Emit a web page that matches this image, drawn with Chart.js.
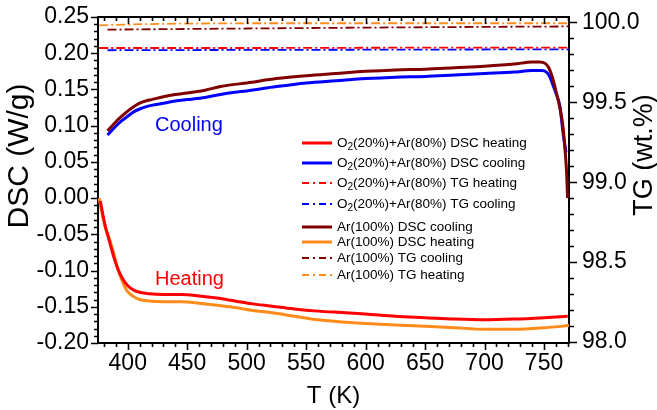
<!DOCTYPE html>
<html lang="en">
<head>
  <meta charset="UTF-8">
  <title>DSC / TG</title>
  <style>
    html, body { margin: 0; padding: 0; background: #fff; }
  </style>
  <script src="https://cdn.jsdelivr.net/npm/chart.js"></script>
</head>
<body>
  <canvas id="chart" width="657" height="410"></canvas>

  <script>
    // ---- data: temperature (K) / signal ----
    const o2DscHeatT = [377, 379, 381, 383, 386, 389, 392, 396, 400, 405, 410, 418, 430, 445, 460, 475, 490, 505, 520, 540, 560, 580, 600, 625, 650, 675, 700, 725, 750, 770];
    const o2DscHeatV = [-0.004, -0.022, -0.038, -0.05, -0.068, -0.085, -0.099, -0.112, -0.121, -0.127, -0.130, -0.132, -0.133, -0.133, -0.135, -0.138, -0.142, -0.146, -0.149, -0.153, -0.156, -0.158, -0.160, -0.163, -0.165, -0.167, -0.168, -0.167, -0.165, -0.163];

    const o2DscCoolT = [383, 387, 391, 395, 400, 405, 410, 415, 420, 430, 440, 450, 465, 478, 490, 500, 525, 550, 575, 600, 625, 650, 675, 700, 725, 740, 748, 752, 755, 757.5, 760, 763.4, 766, 768.5];
    const o2DscCoolV = [0.087, 0.094, 0.101, 0.107, 0.113, 0.119, 0.123, 0.126, 0.128, 0.131, 0.134, 0.136, 0.139, 0.143, 0.146, 0.148, 0.154, 0.159, 0.162, 0.165, 0.167, 0.168, 0.170, 0.172, 0.174, 0.176, 0.176, 0.174, 0.167, 0.156, 0.145, 0.126, 0.090, 0.063];

    const o2TgHeatT = [376, 500, 650, 771];
    const o2TgHeatV = [99.840, 99.840, 99.842, 99.842];

    const o2TgCoolT = [383, 500, 650, 771];
    const o2TgCoolV = [99.826, 99.828, 99.830, 99.832];

    const arDscCoolT = [383, 387, 391, 395, 400, 405, 410, 415, 420, 430, 440, 450, 465, 478, 490, 500, 525, 550, 575, 600, 625, 650, 675, 700, 725, 740, 746, 751, 754, 757.5, 760, 763.4, 766, 767.6, 769, 769.8];
    const arDscCoolV = [0.093, 0.100, 0.107, 0.113, 0.120, 0.126, 0.131, 0.134, 0.136, 0.140, 0.143, 0.145, 0.149, 0.154, 0.157, 0.159, 0.165, 0.169, 0.172, 0.175, 0.177, 0.178, 0.180, 0.182, 0.185, 0.188, 0.188, 0.186, 0.180, 0.164, 0.148, 0.124, 0.098, 0.068, 0.035, 0.0];

    const arDscHeatT = [376, 378, 380, 382, 385, 388, 391, 395, 399, 404, 410, 418, 430, 445, 460, 475, 490, 505, 520, 540, 560, 580, 600, 625, 650, 675, 700, 725, 750, 771];
    const arDscHeatV = [0.0, -0.018, -0.033, -0.045, -0.058, -0.075, -0.094, -0.113, -0.127, -0.135, -0.140, -0.142, -0.143, -0.143, -0.145, -0.148, -0.151, -0.155, -0.158, -0.163, -0.168, -0.171, -0.173, -0.175, -0.177, -0.179, -0.181, -0.181, -0.179, -0.176];

    const arTgCoolT = [383, 500, 650, 771];
    const arTgCoolV = [99.955, 99.962, 99.970, 99.975];

    const arTgHeatT = [376, 420, 550, 771];
    const arTgHeatV = [99.982, 99.990, 99.995, 99.995];

    // ---- axis ticks ----
    const tempTicks = [400, 450, 500, 550, 600, 650, 700, 750];
    const dscTicks = [-0.20, -0.15, -0.10, -0.05, 0.00, 0.05, 0.10, 0.15, 0.20, 0.25];
    const tgTicks = [98.0, 98.5, 99.0, 99.5, 100.0];

    const FONT = "'Liberation Sans', Arial, sans-serif";
    const RED = '#ff0000', BLUE = '#0000ff', DARKRED = '#800000', ORANGE = '#ff8c1a';
    const DASHDOT = [9, 3, 2, 3];

    Chart.defaults.font.family = FONT;
    Chart.defaults.color = '#000';

    function pts(ts, vs) {
      return ts.map((t, i) => ({ x: t, y: vs[i] }));
    }

    function dsc(label, ts, vs, color, order) {
      return { label, data: pts(ts, vs), borderColor: color, borderWidth: 3, yAxisID: 'y', order };
    }
    function tg(label, ts, vs, color) {
      return { label, data: pts(ts, vs), borderColor: color, borderWidth: 1.8, borderDash: DASHDOT, yAxisID: 'y2', order: 2 };
    }

    const datasets = [
      dsc('O2(20%)+Ar(80%) DSC heating', o2DscHeatT, o2DscHeatV, RED, 1),
      dsc('O2(20%)+Ar(80%) DSC cooling', o2DscCoolT, o2DscCoolV, BLUE, 1),
      tg('O2(20%)+Ar(80%) TG heating', o2TgHeatT, o2TgHeatV, RED),
      tg('O2(20%)+Ar(80%) TG cooling', o2TgCoolT, o2TgCoolV, BLUE),
      dsc('Ar(100%) DSC cooling', arDscCoolT, arDscCoolV, DARKRED, 0),
      dsc('Ar(100%) DSC heating', arDscHeatT, arDscHeatV, ORANGE, 1),
      tg('Ar(100%) TG cooling', arTgCoolT, arTgCoolV, DARKRED),
      tg('Ar(100%) TG heating', arTgHeatT, arTgHeatV, ORANGE)
    ];

    // legend rows (y centre of each entry)
    const legendRows = [143, 163, 183, 204, 227, 242, 258, 275];

    // draws text, rendering the "2" in a leading "O2" as a subscript
    function drawLabel(ctx, text, x, y, size) {
      ctx.font = `${size}px ${FONT}`;
      if (text.startsWith('O2')) {
        ctx.fillText('O', x, y);
        x += ctx.measureText('O').width;
        ctx.font = `${Math.round(size * 0.72)}px ${FONT}`;
        ctx.fillText('2', x, y + 4);
        x += ctx.measureText('2').width;
        ctx.font = `${size}px ${FONT}`;
        ctx.fillText(text.slice(2), x, y);
      } else {
        ctx.fillText(text, x, y);
      }
    }

    const framePlugin = {
      id: 'frame',
      afterDraw(chart) {
        const ctx = chart.ctx;
        const { left, right, top, bottom } = chart.chartArea;
        const xs = chart.scales.x, ys = chart.scales.y, y2s = chart.scales.y2;

        ctx.save();
        ctx.setLineDash([]);
        ctx.strokeStyle = '#000';

        // top frame line
        ctx.lineWidth = 2;
        ctx.beginPath();
        ctx.moveTo(left - 1, top);
        ctx.lineTo(right + 1, top);
        ctx.stroke();

        // tick marks: outward on bottom/left/right, inward along the top
        ctx.lineWidth = 1.6;
        ctx.beginPath();
        for (let v = 380; v <= 770; v += 10) {
          const px = Math.round(xs.getPixelForValue(v)) + 0.5;
          const len = tempTicks.includes(v) ? 7 : 4;
          ctx.moveTo(px, bottom);
          ctx.lineTo(px, bottom + len);
          ctx.moveTo(px, top);
          ctx.lineTo(px, top + len);
        }
        for (let i = -20; i <= 25; i++) {
          const py = Math.round(ys.getPixelForValue(i / 100)) + 0.5;
          const len = i % 5 === 0 ? 7 : 4;
          ctx.moveTo(left, py);
          ctx.lineTo(left - len, py);
        }
        for (let i = 980; i <= 1000; i++) {
          const py = Math.round(y2s.getPixelForValue(i / 10)) + 0.5;
          const len = i % 5 === 0 ? 8 : 5;
          ctx.moveTo(right, py);
          ctx.lineTo(right + len, py);
        }
        ctx.stroke();

        // axis titles
        ctx.fillStyle = '#000';
        ctx.font = `24px ${FONT}`;
        ctx.textAlign = 'center';
        ctx.textBaseline = 'alphabetic';
        ctx.fillText('T (K)', (left + right) / 2, 403);

        ctx.textBaseline = 'middle';
        ctx.font = `30px ${FONT}`;
        ctx.save();
        ctx.translate(20, 156);
        ctx.rotate(-Math.PI / 2);
        ctx.fillText('DSC (W/g)', 0, 0);
        ctx.restore();

        ctx.font = `27px ${FONT}`;
        ctx.save();
        ctx.translate(645, 155);
        ctx.rotate(-Math.PI / 2);
        ctx.fillText('TG (wt.%)', 0, 0);
        ctx.restore();

        // curve annotations
        ctx.textAlign = 'left';
        ctx.textBaseline = 'alphabetic';
        ctx.font = `20px ${FONT}`;
        ctx.fillStyle = BLUE;
        ctx.fillText('Cooling', 155, 131);
        ctx.fillStyle = RED;
        ctx.fillText('Heating', 155, 285);

        // legend
        ctx.textBaseline = 'middle';
        chart.data.datasets.forEach((ds, i) => {
          const y = legendRows[i];
          ctx.strokeStyle = ds.borderColor;
          ctx.lineWidth = ds.borderDash ? 2 : 3;
          ctx.setLineDash(ds.borderDash ? [7, 4, 2, 4] : []);
          ctx.beginPath();
          ctx.moveTo(302, y);
          ctx.lineTo(332, y);
          ctx.stroke();
          ctx.setLineDash([]);
          ctx.fillStyle = '#000';
          drawLabel(ctx, ds.label, 337, y, 13.5);
        });

        ctx.restore();
      }
    };

    const axisBorder = { display: true, color: '#000', width: 2 };
    // invisible tick marks only reserve the gap between axis line and labels
    const gap = len => ({ display: true, drawOnChartArea: false, drawTicks: true, tickLength: len, tickColor: 'rgba(0,0,0,0)' });

    new Chart(document.getElementById('chart'), {
      type: 'scatter',
      data: { datasets },
      options: {
        responsive: false,
        animation: false,
        showLine: true,
        layout: { autoPadding: false, padding: { top: 17, left: 0, right: 0, bottom: 0 } },
        elements: {
          point: { radius: 0 },
          line: { cubicInterpolationMode: 'monotone', fill: false }
        },
        plugins: {
          legend: { display: false },
          tooltip: { enabled: false }
        },
        scales: {
          x: {
            type: 'linear', position: 'bottom', min: 375, max: 771,
            afterBuildTicks: s => { s.ticks = tempTicks.map(v => ({ value: v })); },
            afterFit: s => { s.height = 67; },
            grid: gap(7), border: axisBorder,
            ticks: { font: { size: 23 }, padding: 0, maxRotation: 0, callback: v => String(v) }
          },
          y: {
            type: 'linear', position: 'left', min: -0.2, max: 0.25,
            afterBuildTicks: s => { s.ticks = dscTicks.map(v => ({ value: v })); },
            afterFit: s => { s.width = 98; },
            grid: gap(9), border: axisBorder,
            ticks: { font: { size: 23 }, padding: 0, callback: v => v.toFixed(2) }
          },
          y2: {
            type: 'linear', position: 'right', min: 97.994, max: 100.034,
            afterBuildTicks: s => { s.ticks = tgTicks.map(v => ({ value: v })); },
            afterFit: s => { s.width = 88; },
            grid: gap(13), border: axisBorder,
            ticks: { font: { size: 23 }, padding: 0, callback: v => v.toFixed(1) }
          }
        }
      },
      plugins: [framePlugin]
    });
  </script>
</body>
</html>
